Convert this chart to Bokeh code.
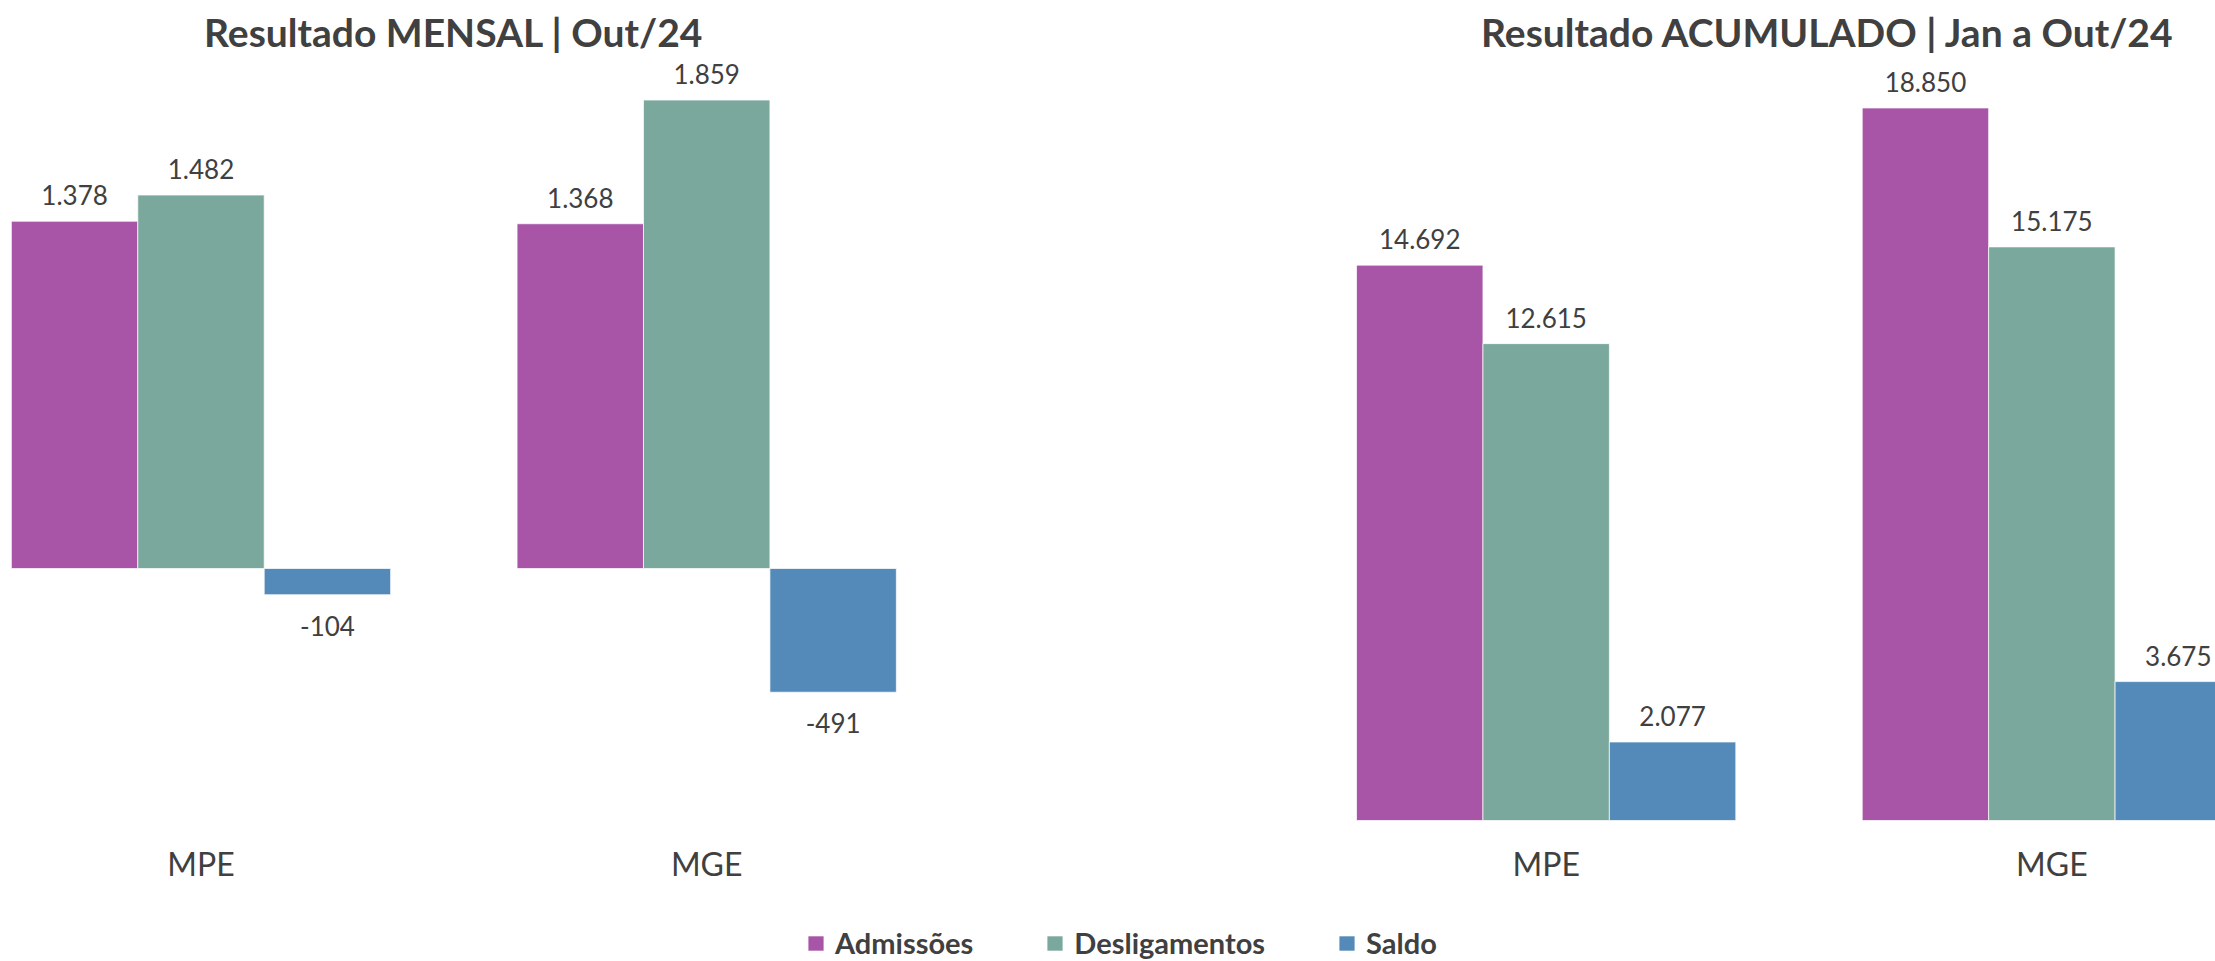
from bokeh.plotting import figure
from bokeh.models import (Range1d, ColumnDataSource, Legend, LegendItem, Label,
                          FixedTicker)
from bokeh.layouts import column
from bokeh.embed import file_html
from bokeh.resources import INLINE
from bokeh.core.properties import value

# ---------------- data ----------------
categories = ["MPE", "MGE"]
series = ["Admissões", "Desligamentos", "Saldo"]
colors = ["#A855A8", "#7BA89C", "#548ABA"]

mensal_admissoes = [1378, 1368]
mensal_desligamentos = [1482, 1859]
mensal_saldo = [-104, -491]

acum_admissoes = [14692, 18850]
acum_desligamentos = [12615, 15175]
acum_saldo = [2077, 3675]

title_mensal = "Resultado MENSAL | Out/24"
title_acum = "Resultado ACUMULADO | Jan a Out/24"

# ---------------- layout constants ----------------
W = 2215
H_CHART = 840
H_TOTAL = 961
UNIT = 505.7          # px per category slot
X0_PX = 200.5         # px of first category centre inside frame
RIGHT_SHIFT = 2.66    # category-slot offset of the second chart
BAR_W = 0.25
OFFSETS = [-BAR_W, 0.0, BAR_W]
TXT = "#404040"
FONT = "Lato"

# y scales (px per unit) and zero-line positions (px from frame top)
L_SCALE, L_ZERO = 0.252, 568.0
R_SCALE, R_ZERO = 0.0378, 820.0

x_start = -X0_PX / UNIT
x_end = x_start + W / UNIT
xr = Range1d(x_start, x_end)

p = figure(width=W, height=H_CHART, x_range=xr,
           y_range=Range1d(-(H_CHART - L_ZERO) / L_SCALE, L_ZERO / L_SCALE),
           output_backend="svg", toolbar_location=None, min_border=0,
           x_axis_location=None, y_axis_location=None,
           outline_line_color=None, border_fill_color="white",
           background_fill_color="white")
p.extra_y_ranges = {"acum": Range1d(-(H_CHART - R_ZERO) / R_SCALE, R_ZERO / R_SCALE)}
p.xgrid.visible = False
p.ygrid.visible = False


def fmt(v):
    return f"{v:,}".replace(",", ".")


left_pos = [i for i in range(len(categories))]
right_pos = [i + RIGHT_SHIFT for i in range(len(categories))]

charts = [
    (left_pos, [mensal_admissoes, mensal_desligamentos, mensal_saldo], "default"),
    (right_pos, [acum_admissoes, acum_desligamentos, acum_saldo], "acum"),
]

for pos, vals_list, yname in charts:
    pos_lbl = dict(x=[], y=[], t=[])
    neg_lbl = dict(x=[], y=[], t=[])
    for si, vals in enumerate(vals_list):
        xs = [c + OFFSETS[si] for c in pos]
        src = ColumnDataSource(dict(x=xs, top=vals))
        p.vbar(x="x", top="top", bottom=0, width=BAR_W, source=src,
               fill_color=colors[si], line_color="white", line_width=1,
               line_alpha=0.7, y_range_name=yname)
        for x, v in zip(xs, vals):
            d = pos_lbl if v >= 0 else neg_lbl
            d["x"].append(x)
            d["y"].append(v)
            d["t"].append(fmt(v))
    p.text(x="x", y="y", text="t", source=ColumnDataSource(pos_lbl),
           text_align="center", text_baseline="alphabetic", y_offset=-26,
           text_font=value(FONT), text_font_size="26px", text_color=TXT,
           y_range_name=yname)
    p.text(x="x", y="y", text="t", source=ColumnDataSource(neg_lbl),
           text_align="center", text_baseline="top", y_offset=21,
           text_font=value(FONT), text_font_size="26px", text_color=TXT,
           y_range_name=yname)

# titles
for pos, ttl, dx in [(left_pos, title_mensal, 0), (right_pos, title_acum, 29)]:
    cx = sum(pos) / len(pos)
    p.add_layout(Label(x=cx, y=H_CHART - 8, y_units="screen", x_offset=dx,
                       text=ttl, text_align="center", text_baseline="top",
                       text_font=FONT, text_font_style="bold",
                       text_font_size="39px", text_color=TXT))

# ---------------- category axis + legend strip ----------------
leg = figure(width=W, height=H_TOTAL - H_CHART, x_range=xr,
             y_range=Range1d(0, 1), output_backend="svg",
             toolbar_location=None, min_border=0,
             x_axis_location="above", y_axis_location=None,
             outline_line_color=None, border_fill_color="white",
             background_fill_color="white")
leg.xgrid.visible = False
leg.ygrid.visible = False
ticks = left_pos + right_pos
leg.xaxis.ticker = FixedTicker(ticks=ticks, minor_ticks=[])
leg.xaxis.major_label_overrides = {t: categories[i % len(categories)]
                                   for i, t in enumerate(ticks)}
ax = leg.xaxis[0]
ax.axis_line_color = None
ax.major_tick_line_color = None
ax.minor_tick_line_color = None
ax.major_label_standoff = 0
ax.major_label_text_font = FONT
ax.major_label_text_font_size = "32px"
ax.major_label_text_color = TXT

items = []
for si, name in enumerate(series):
    r = leg.vbar(x=[float("nan")], top=[float("nan")], width=BAR_W,
                 fill_color=colors[si], line_color=None)
    items.append(LegendItem(label=name, renderers=[r]))

legend = Legend(items=items, orientation="horizontal", location=(806, 1),
                glyph_width=19, glyph_height=18, label_standoff=10,
                spacing=72, padding=0, margin=0,
                border_line_color=None, background_fill_alpha=0,
                label_text_font=FONT, label_text_font_style="bold",
                label_text_font_size="29px", label_text_color=TXT,
                label_text_baseline="middle")
leg.add_layout(legend)

layout = column(p, leg, spacing=0)
open("out.html", "w").write(file_html(layout, INLINE))
